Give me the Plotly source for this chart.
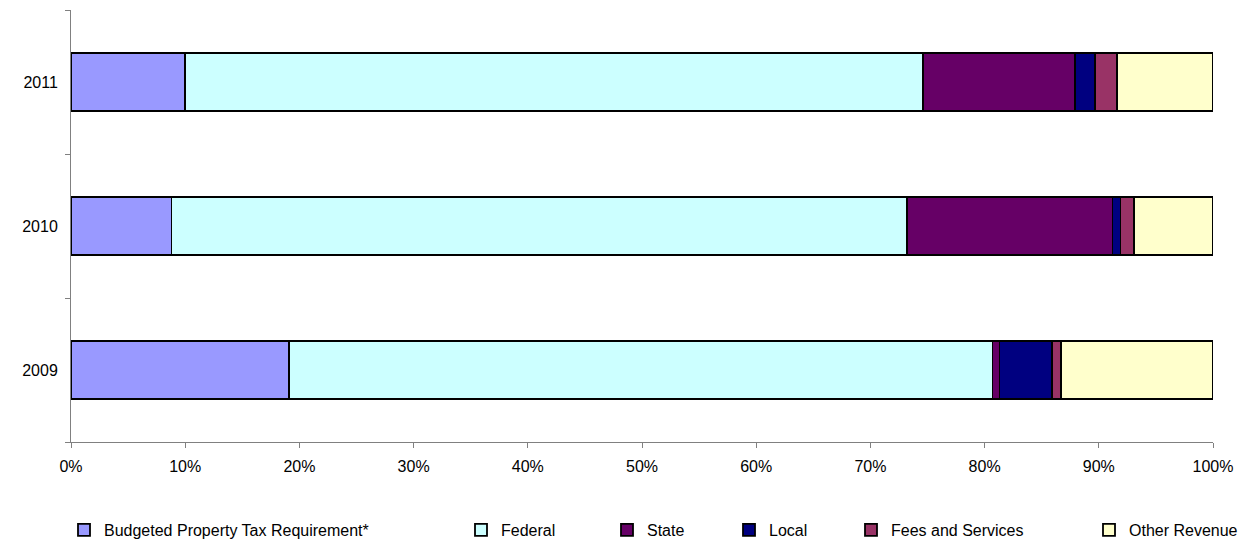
import plotly.graph_objects as go

years = ["2009", "2010", "2011"]
series_names = ["Budgeted Property Tax Requirement*", "Federal", "State", "Local",
                "Fees and Services", "Other Revenue"]
budgeted = [19.1, 8.8, 10.0]
federal = [61.6, 64.4, 64.6]
state = [0.6, 18.0, 13.3]
local = [4.6, 0.7, 1.8]
fees = [0.8, 1.2, 1.9]
other = [13.3, 6.9, 8.4]

colors = ["#9999FF", "#CCFFFF", "#660066", "#000080", "#993366", "#FFFFCC"]
values = [budgeted, federal, state, local, fees, other]

# legend symbol left edges (screen px) used for placing separate legends
legend_px = [87, 484, 630, 752, 874, 1112]

OFF = 8  # page body margin
W, H = 1247 - OFF, 544 - OFF
L, T = 71 - OFF, 10 - OFF
pw, ph = 1142, 432
R = W - L - pw
B = H - T - ph

fig = go.Figure()
for i, (name, vals, col) in enumerate(zip(series_names, values, colors)):
    lname = "legend" if i == 0 else f"legend{i+1}"
    fig.add_trace(go.Bar(
        y=years, x=[v / 100 for v in vals], name=name, orientation="h",
        marker=dict(color=col, line=dict(color="black", width=1.8)),
        legend=lname, showlegend=True, hoverinfo="name+x",
    ))

layout_legends = {}
for i, px in enumerate(legend_px):
    lname = "legend" if i == 0 else f"legend{i+1}"
    layout_legends[lname] = dict(
        x=(px - 23 - 71) / pw, xanchor="left",
        y=-(530 - 442) / ph, yanchor="middle",
        orientation="h", bgcolor="rgba(0,0,0,0)",
        font=dict(family="Liberation Sans, Arial", size=16, color="black"),
        itemwidth=30, tracegroupgap=0,
    )

fig.update_layout(
    width=W, height=H, barmode="stack", bargap=0.6, showlegend=True,
    margin=dict(l=L, r=R, t=T, b=B, autoexpand=False),
    plot_bgcolor="white", paper_bgcolor="white",
    font=dict(family="Liberation Sans, Arial", size=16, color="black"),
    **layout_legends,
    xaxis=dict(range=[0, 1], tickformat=".0%", dtick=0.1, tick0=0,
               showgrid=False, zeroline=False, showline=True,
               linecolor="#808080", linewidth=1, ticks="outside", ticklen=5,
               tickcolor="#808080", tickfont=dict(size=16),
               ticklabelstandoff=5, automargin=False),
    yaxis=dict(type="category", range=[-0.5, 2.5], showgrid=False,
               zeroline=False, showline=True, linecolor="#808080", linewidth=1,
               ticks="outside", ticklen=5, tickcolor="#808080",
               tickson="boundaries", tickfont=dict(size=16),
               ticklabelstandoff=9, automargin=False),
)

fig.write_html("out.html")
